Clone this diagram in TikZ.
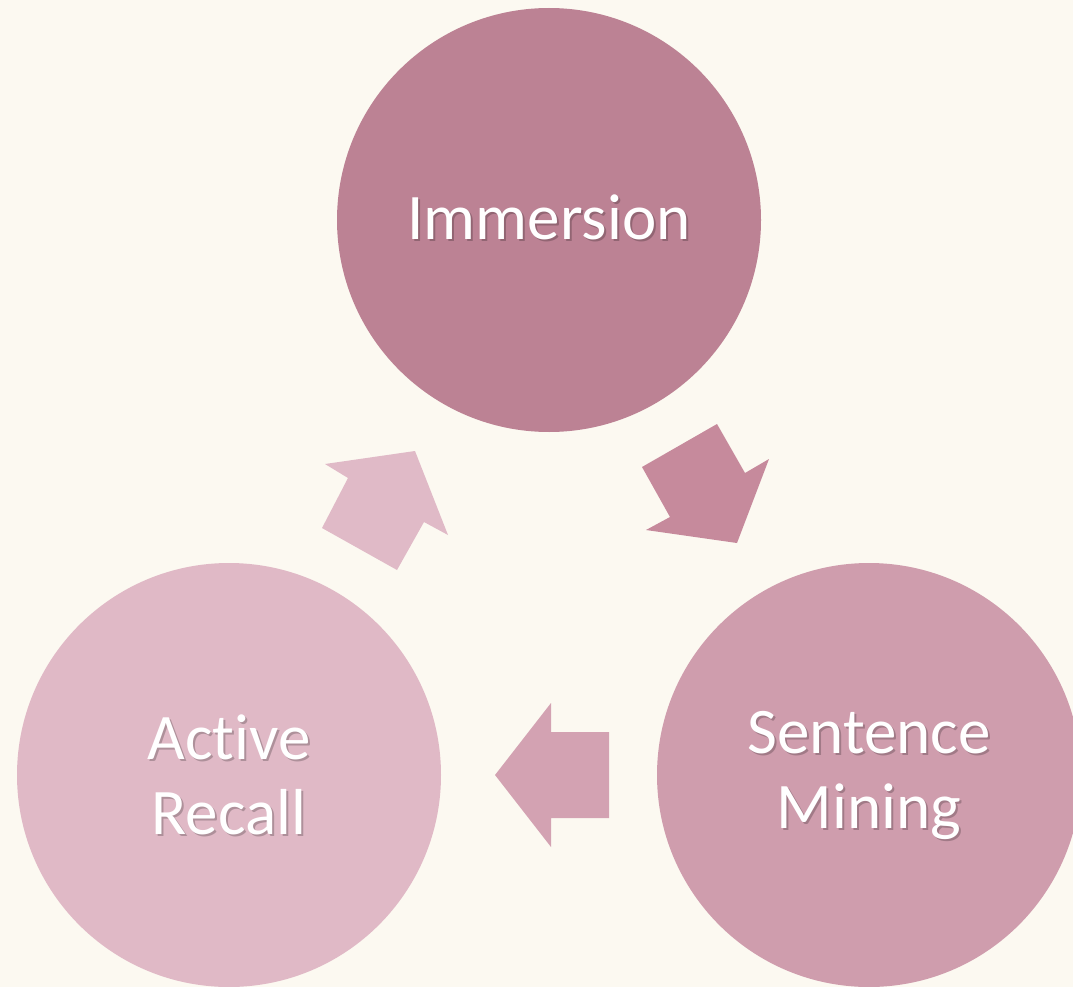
\documentclass[tikz,border=0pt]{standalone}
\usepackage{fontspec}
\setmainfont{Carlito}[Ligatures={NoCommon}]
\definecolor{bgcream}{HTML}{FCF9F1}
\definecolor{roseDark}{HTML}{BC8294}
\definecolor{roseMid}{HTML}{CF9DAD}
\definecolor{roseLight}{HTML}{E0B9C6}
\definecolor{arrowDark}{HTML}{C68A9C}
\definecolor{arrowMid}{HTML}{D3A2B2}
\definecolor{arrowLight}{HTML}{E0BAC7}
\tikzset{
  stage/.style={circle, minimum size=424pt, inner sep=0pt},
  label/.style={text=white, font=\fontsize{65}{75}\selectfont, align=center},
  labelshadow/.style={text=black, opacity=0.22, font=\fontsize{65}{75}\selectfont, align=center},
}
\newcommand{\shadowlabel}[2]{%
  \node[labelshadow] at ([shift={(2pt,-2pt)}]#1) {#2};
  \node[label] at (#1) {#2};}
\begin{document}
\begin{tikzpicture}[x=1pt, y=-1pt]
  % canvas
  \fill[bgcream] (0,0) rectangle (1073,987);
  \useasboundingbox (0,0) rectangle (1073,987);

  % the three stages of the cycle
  \begin{scope}
    \clip (0,0) rectangle (1073,987);
    \node[stage, fill=roseDark]  (immersion) at (549,220) {};
    \node[stage, fill=roseMid]   (mining)    at (869,775) {};
    \node[stage, fill=roseLight] (recall)    at (229,775) {};
  \end{scope}
  \coordinate (immersionText) at ([yshift=3pt]immersion.center);

  % block arrows between the stages
  \fill[arrowDark]  (642,467) -- (717,424) -- (745,473) -- (769,459)
                    -- (737,543) -- (646,530) -- (670,517) -- cycle;
  \fill[arrowMid]   (609,732) -- (551,732) -- (551,703) -- (495,775)
                    -- (551,847) -- (551,818) -- (609,818) -- cycle;
  \fill[arrowLight] (322,528) -- (348,478) -- (325,464) -- (415,451)
                    -- (448,535) -- (424,522) -- (397,570) -- cycle;

  % stage labels
  \shadowlabel{immersionText}{Immersion}
  \shadowlabel{mining}{Sentence\\Mining}
  \shadowlabel{recall}{Active\\Recall}
\end{tikzpicture}
\end{document}
